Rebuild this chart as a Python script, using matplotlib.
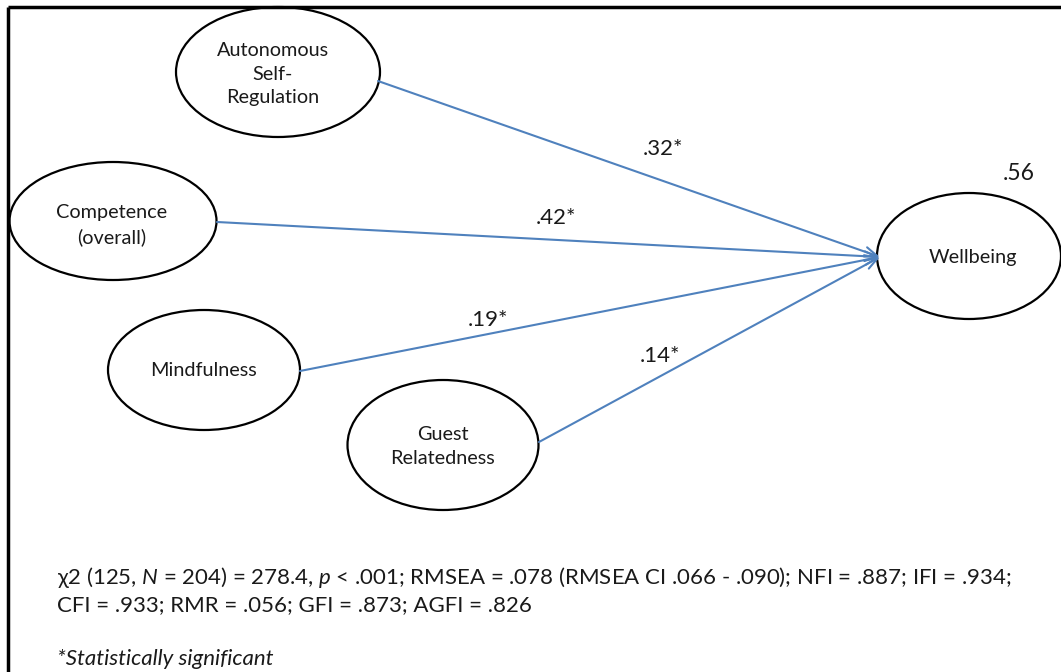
import matplotlib.pyplot as plt
from matplotlib.patches import Ellipse

# path model data
predictors = ['Autonomous\nSelf-\nRegulation', 'Competence\n(overall)', 'Mindfulness', 'Guest\nRelatedness']
coefs = ['.32*', '.42*', '.19*', '.14*']
outcome = 'Wellbeing'
r2 = '.56'
fit_line1 = (r'χ2 (125, $\it{N}$ = 204) = 278.4, $\it{p}$ < .001; RMSEA = .078 (RMSEA CI .066 - .090); '
             'NFI = .887; IFI = .934;')
fit_line2 = 'CFI = .933; RMR = .056; GFI = .873; AGFI = .826'
note = '*Statistically significant'

# layout in pixel coords (x, y from top)
node_xy = [(278, 72), (113, 221), (204, 370), (443, 445)]
node_wh = [(204, 130), (207, 118), (192, 120), (191, 130)]
text_xy = [(273, 74), (112, 225), (204, 371), (443, 447)]
start_xy = [(378, 81), (217, 222), (300, 371), (539, 442)]
label_xy = [(663, 149), (556, 218), (488, 320), (660, 356)]
out_xy, out_wh = (969, 256), (184, 126)
end_xy = (880, 257)

plt.rcParams['font.family'] = ['Lato', 'DejaVu Sans']
plt.rcParams['mathtext.fontset'] = 'custom'
plt.rcParams['mathtext.it'] = 'Lato:italic'
plt.rcParams['mathtext.rm'] = 'Lato'

blue = '#4F81BD'
ink = '#1a1a1a'
fig = plt.figure(figsize=(10.61, 6.72), dpi=100)
ax = fig.add_axes([0, 0, 1, 1])
ax.set_xlim(0, 1061)
ax.set_ylim(672, 0)
ax.axis('off')

# frame (top and left only)
ax.plot([8, 1061], [7, 7], color='black', lw=2.5, solid_capstyle='butt')
ax.plot([8, 8], [7, 672], color='black', lw=2.5, solid_capstyle='butt')

for i in range(len(predictors)):
    ax.add_patch(Ellipse(node_xy[i], node_wh[i][0], node_wh[i][1], fill=False, ec='black', lw=1.6))
    ax.text(text_xy[i][0], text_xy[i][1], predictors[i], ha='center', va='center',
            fontsize=14.3, linespacing=1.5, color=ink)
    ax.annotate('', xy=end_xy, xytext=start_xy[i],
                arrowprops=dict(arrowstyle='->,head_length=0.9,head_width=0.35', color=blue, lw=1.5,
                                shrinkA=0, shrinkB=0))
    ax.text(label_xy[i][0], label_xy[i][1], coefs[i], ha='center', va='center', fontsize=16, color=ink)

ax.add_patch(Ellipse(out_xy, out_wh[0], out_wh[1], fill=False, ec='black', lw=1.6))
ax.text(973, 257, outcome, ha='center', va='center', fontsize=14.3, color=ink)
ax.text(1019, 173, r2, ha='center', va='center', fontsize=16.5, color=ink)

ax.text(57, 577, fit_line1, ha='left', va='center', fontsize=16, color=ink)
ax.text(57, 605, fit_line2, ha='left', va='center', fontsize=16, color=ink)
ax.text(57, 659, note, ha='left', va='center', fontsize=16, style='italic', color=ink)

fig.savefig('out.png', dpi=100)
